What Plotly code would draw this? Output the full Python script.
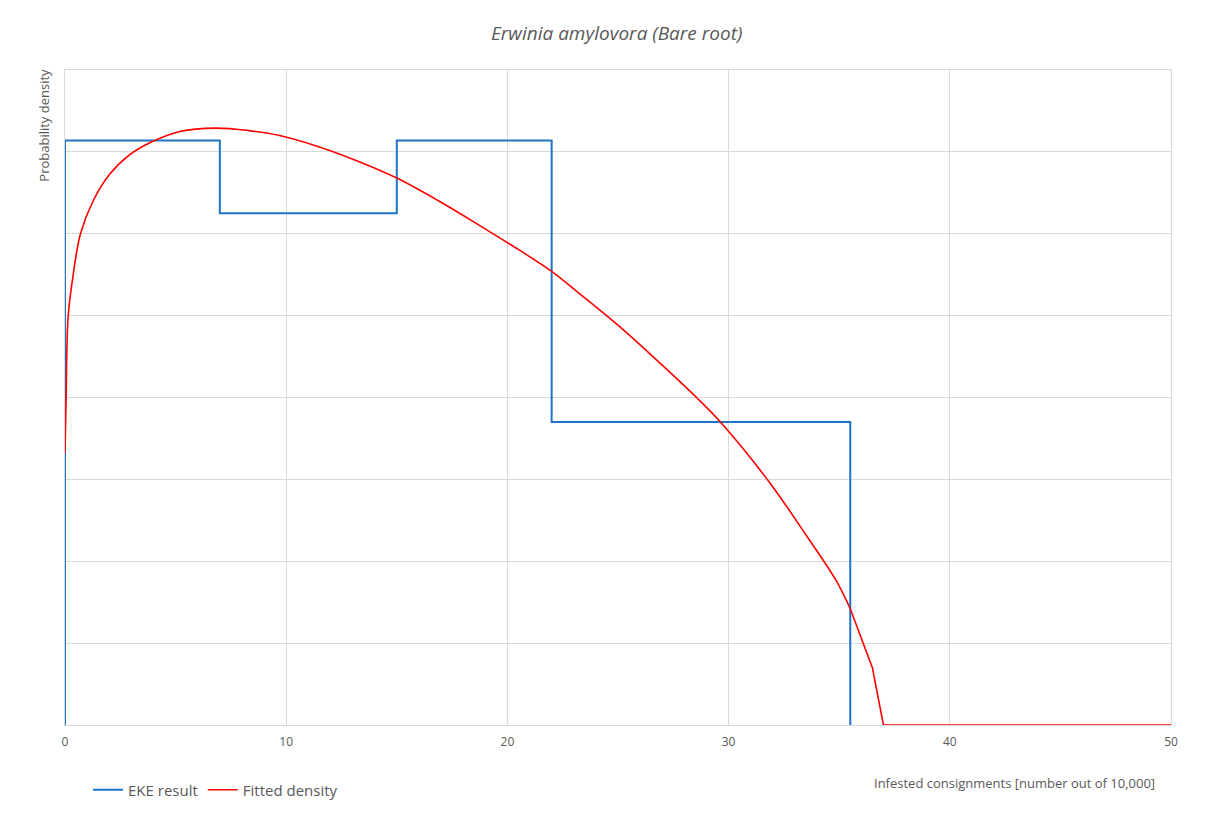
import plotly.graph_objects as go

# EKE result: quartile bins and their densities
eke_edges = [0, 7, 15, 22, 35.5]
eke_density = [0.0357, 0.03125, 0.0357, 0.0185]

# Fitted density curve
fit_x = [0, 0.05, 0.14, 0.36, 0.7, 1.27, 2.0, 2.9, 3.9, 5.2, 6.8, 8.3, 9.7,
         11.5, 13.3, 15.0, 16.9, 18.75, 20.6, 22.0, 23.3, 25.1, 26.9, 28.55,
         29.7, 31.86, 33.5, 34.87, 35.5, 36.0, 36.5, 37, 50]
fit_y = [0.0166, 0.0200, 0.0249, 0.0274, 0.0300, 0.0320, 0.0336, 0.0348,
         0.0356, 0.03625, 0.03645, 0.0363, 0.0360, 0.0353, 0.0344, 0.0334,
         0.0320, 0.0305, 0.02895, 0.0277, 0.0263, 0.0243, 0.0221, 0.0200,
         0.0184, 0.0148, 0.0116, 0.0088, 0.0071, 0.0053, 0.0035, 0.0, 0.0]

x_ticks = [0, 10, 20, 30, 40, 50]

title_text = "Erwinia amylovora (Bare root)"
x_title = "Infested consignments [number out of 10,000]"
y_title = "Probability density"

OFF = 8  # page body margin
W, H = 1206 - 2 * OFF, 818 - 2 * OFF
L, R, T, B = 65.3 - OFF, 1206 - 1171 - OFF, 69.5 - OFF, 818 - 724.7 - OFF
pw, ph = W - L - R, H - T - B


def px(x):  # page pixel -> paper x
    return (x - OFF - L) / pw


def py(y):  # page pixel -> paper y
    return 1 - (y - OFF - T) / ph


def cx(x):  # page pixel -> container x
    return (x - OFF) / W


def cy(y):  # page pixel -> container y
    return 1 - (y - OFF) / H


# build step trace from bins
step_x = [eke_edges[0]] + eke_edges[:-1] + [eke_edges[-1]]
step_y = [0] + eke_density + [0]

# split fitted curve: smooth body and straight tail
k = fit_x.index(35.5)

font_family = "Open Sans, Lato, sans-serif"
txt = "#595959"
grid = "#d9d9d9"
red = "#ff0000"

fig = go.Figure()
fig.add_trace(go.Scatter(x=step_x, y=step_y, mode="lines", line_shape="hv",
                         name="EKE result", line=dict(color="#1f74c4", width=2)))
fig.add_trace(go.Scatter(x=fit_x[:k + 1], y=fit_y[:k + 1], mode="lines",
                         name="Fitted density", legendgroup="fit",
                         line=dict(color=red, width=1.6, shape="spline",
                                   smoothing=1.0)))
fig.add_trace(go.Scatter(x=fit_x[k:], y=fit_y[k:], mode="lines",
                         name="Fitted density", legendgroup="fit", showlegend=False,
                         line=dict(color=red, width=1.6)))

fig.update_layout(
    width=W, height=H,
    margin=dict(l=L, r=R, t=T, b=B),
    paper_bgcolor="white", plot_bgcolor="white",
    font=dict(family=font_family, color=txt, size=12),
    showlegend=True,
    legend=dict(orientation="h", xref="container", yref="container",
                x=cx(88), xanchor="left", y=cy(790), yanchor="middle",
                font=dict(size=15, color=txt), bgcolor="rgba(0,0,0,0)",
                itemwidth=30),
    xaxis=dict(range=[0, 50], tickvals=x_ticks, showgrid=True, gridcolor=grid,
               gridwidth=1, zeroline=False, showline=True, mirror=True,
               linecolor=grid, linewidth=1, ticks="outside", ticklen=6,
               tickcolor="rgba(0,0,0,0)", tickfont=dict(size=12, color=txt),
               fixedrange=True),
    yaxis=dict(range=[0, 0.04], dtick=0.005, showgrid=True, gridcolor=grid,
               gridwidth=1, zeroline=False, showline=True, mirror=True,
               linecolor=grid, linewidth=1, showticklabels=False, ticks="",
               fixedrange=True),
    annotations=[
        dict(text="<i>" + title_text + "</i>", xref="paper", yref="paper",
             x=px(617), y=py(32), xanchor="center", yanchor="middle",
             showarrow=False, font=dict(size=19, color=txt)),
        dict(text=x_title, xref="paper", yref="paper",
             x=px(1157), y=py(783), xanchor="right",
             yanchor="middle", showarrow=False, font=dict(size=13, color=txt)),
        dict(text=y_title, xref="paper", yref="paper", textangle=-90,
             x=px(44), y=py(66), xanchor="center", yanchor="top",
             showarrow=False, font=dict(size=13, color=txt)),
    ],
    shapes=[
        dict(type="rect", xref="paper", yref="paper",
             x0=px(6), x1=px(1230), y0=py(840), y1=py(5.5),
             line=dict(color="#e0e0e0", width=1), fillcolor="rgba(0,0,0,0)",
             layer="below"),
    ],
)

fig.write_html("out.html")
